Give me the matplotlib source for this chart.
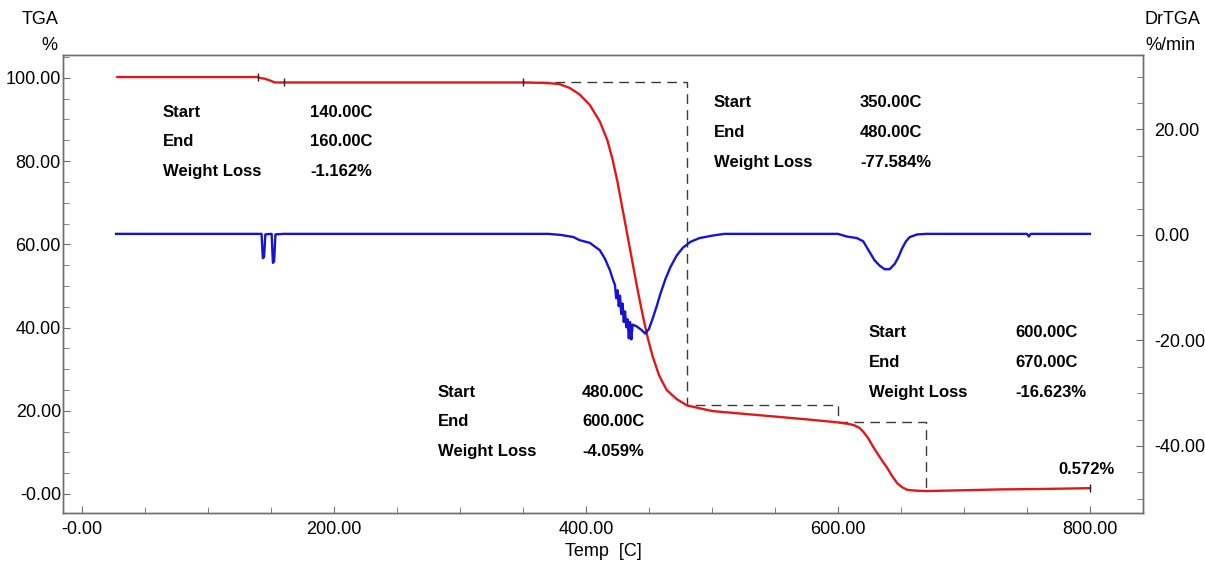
import numpy as np
import matplotlib
matplotlib.use("Agg")
import matplotlib.pyplot as plt
from matplotlib.ticker import MultipleLocator, FixedLocator, FixedFormatter

plt.rcParams['font.family'] = ['Liberation Sans', 'DejaVu Sans']

# ---------------- data ----------------
tga_temp = [28, 100, 139, 141, 145, 149, 153, 160, 200, 300, 350, 365, 372, 379, 387, 395,
            403, 411, 417, 421, 425, 429, 433, 437, 441, 445, 449, 453, 458, 464, 472, 480, 490,
            501, 520, 554, 580, 600, 609, 613, 617, 620, 624, 628, 632, 636, 639, 643, 647, 651, 655,
            662, 670, 700, 729, 760, 782, 800]
tga_val = [100.2, 100.2, 100.2, 100.0, 99.8, 99.4, 98.9, 98.9, 98.9, 98.9, 98.9, 98.8, 98.7, 98.5, 97.6, 96.0,
           93.5, 89.5, 85.0, 80.5, 75.0, 68.5, 62.0, 55.5, 49.0, 43.0, 37.5, 33.0, 28.5, 25.0, 22.8, 21.3, 20.6,
           19.9, 19.4, 18.5, 17.8, 17.2, 16.8, 16.5, 15.9, 15.0, 13.4, 11.3, 9.4, 7.6, 6.3, 4.3, 2.6, 1.6, 1.0,
           0.8, 0.7, 0.9, 1.1, 1.2, 1.3, 1.4]

dtg_temp = [27, 100, 142.5, 143.5, 144.5, 145.5, 150.5, 151.5, 152.5, 153.5, 160, 300,
            370, 380, 390, 395, 403, 411, 415, 419, 421, 423, 424, 425, 426, 427, 428,
            429, 430, 431, 432, 433, 434, 435, 436, 437, 440, 444, 447, 450, 453, 456,
            459, 463, 467, 472, 477, 483, 490, 501, 510, 600, 607, 615, 620, 625, 629, 633,
            637, 641, 645, 648, 651, 654, 657, 663, 670, 750, 751.5, 753, 800]
dtg_val = [0.2, 0.2, 0.2, -4.4, -4.2, 0.1, 0.2, -5.3, -5.0, 0.1, 0.2, 0.2,
           0.2, 0.0, -0.4, -1.0, -1.5, -2.9, -4.5, -6.7, -8.2, -9.5, -12.0, -10.5, -13.5, -11.5, -15.0,
           -13.0, -16.5, -14.5, -17.5, -16.0, -19.6, -16.5, -19.8, -17.0, -17.3, -18.0, -18.7, -17.8, -15.8, -13.6,
           -11.2, -8.4, -6.1, -3.9, -2.4, -1.3, -0.6, -0.1, 0.2, 0.2, -0.3, -0.6, -1.2, -3.2, -4.8, -5.8,
           -6.5, -6.5, -5.5, -4.2, -2.5, -1.2, -0.4, 0.1, 0.2, 0.2, -0.3, 0.2, 0.2]

step_temp = [350, 480, 480, 600, 600, 670, 670]
step_val = [98.9, 98.9, 21.3, 21.3, 17.3, 17.3, 0.7]

marker_temps = [140, 160, 350, 800]

blocks = [
    # (start, end, loss)
    ("140.00C", "160.00C", "-1.162%"),
    ("350.00C", "480.00C", "-77.584%"),
    ("600.00C", "670.00C", "-16.623%"),
    ("480.00C", "600.00C", "-4.059%"),
]
residue_label = "0.572%"

x_ticks = [0, 200, 400, 600, 800]
x_ticklabels = ["-0.00", "200.00", "400.00", "600.00", "800.00"]
yl_ticks = [0, 20, 40, 60, 80, 100]
yl_ticklabels = ["-0.00", "20.00", "40.00", "60.00", "80.00", "100.00"]
yr_ticks = [-40, -20, 0, 20]
yr_ticklabels = ["-40.00", "-20.00", "0.00", "20.00"]

# ---------------- figure ----------------
RED = "#e21818"
BLUE = "#1414d2"
FRAME = "#6e6e6e"

fig = plt.figure(figsize=(12.05, 5.61), dpi=100)
ax = fig.add_axes([63/1205, 1-513/561, (1143-63)/1205, (513-55)/561])
ax2 = ax.twinx()

ax.set_xlim(-15.1, 842.1)
ax.set_ylim(-4.57, 105.5)
ax2.set_ylim(-52.7, 34.1)

ax.plot(tga_temp, tga_val, color=RED, lw=1.7, zorder=3, solid_joinstyle='round')
ax.plot(step_temp, step_val, color="#3a3a3a", lw=1.0, linestyle=(0, (7, 4.5)), zorder=2)
ax.plot(marker_temps, np.interp(marker_temps, tga_temp, tga_val), linestyle="none",
        marker="|", markersize=6, color="#222222", mew=1.0, zorder=4)
ax2.plot(dtg_temp, dtg_val, color=BLUE, lw=1.7, solid_joinstyle='round')

for a in (ax, ax2):
    for s in a.spines.values():
        s.set_color(FRAME)
        s.set_linewidth(1.0)

ax.xaxis.set_major_locator(FixedLocator(x_ticks))
ax.xaxis.set_major_formatter(FixedFormatter(x_ticklabels))
ax.xaxis.set_minor_locator(MultipleLocator(50))
ax.yaxis.set_major_locator(FixedLocator(yl_ticks))
ax.yaxis.set_major_formatter(FixedFormatter(yl_ticklabels))
ax.yaxis.set_minor_locator(MultipleLocator(5))
ax2.yaxis.set_major_locator(FixedLocator(yr_ticks))
ax2.yaxis.set_major_formatter(FixedFormatter(yr_ticklabels))
ax2.yaxis.set_minor_locator(MultipleLocator(5))

ax.tick_params(axis='both', which='both', direction='in', color=FRAME, labelsize=13)
ax.tick_params(axis='both', which='major', length=5)
ax.tick_params(axis='both', which='minor', length=4)
ax.tick_params(axis='y', pad=1.5)
ax.tick_params(axis='x', pad=6)
ax2.tick_params(axis='y', which='both', direction='in', color=FRAME, labelsize=13, pad=8)
ax2.tick_params(axis='y', which='major', length=5)
ax2.tick_params(axis='y', which='minor', length=4)

ax.set_xlabel("Temp  [C]", fontsize=13, labelpad=3)

fig.text(40/1205, 1-20/561, "TGA", fontsize=13, ha='center', va='center')
fig.text(49/1205, 1-45/561, "%", fontsize=13, ha='center', va='center')
fig.text(1172/1205, 1-20/561, "DrTGA", fontsize=13, ha='center', va='center')
fig.text(1195/1205, 1-45/561, "%/min", fontsize=13, ha='right', va='center')

# annotation blocks (label column x, value column x, first row y) in left-axis data coords
layout = [(64, 181, 91.8), (501.6, 617.5, 94.0), (624.6, 741, 38.7), (282.5, 396.8, 24.5)]
for (start, end, loss), (xl, xv, y0) in zip(blocks, layout):
    rows = [("Start", start), ("End", end), ("Weight Loss", loss)]
    for i, (lab, val) in enumerate(rows):
        yy = y0 - i * 7.2
        ax.text(xl, yy, lab, fontsize=12, fontweight='bold', ha='left', va='center')
        ax.text(xv, yy, val, fontsize=12, fontweight='bold', ha='left', va='center')
ax.text(774.6, 5.8, residue_label, fontsize=12, fontweight='bold', ha='left', va='center')

fig.savefig("out.png", dpi=100)
